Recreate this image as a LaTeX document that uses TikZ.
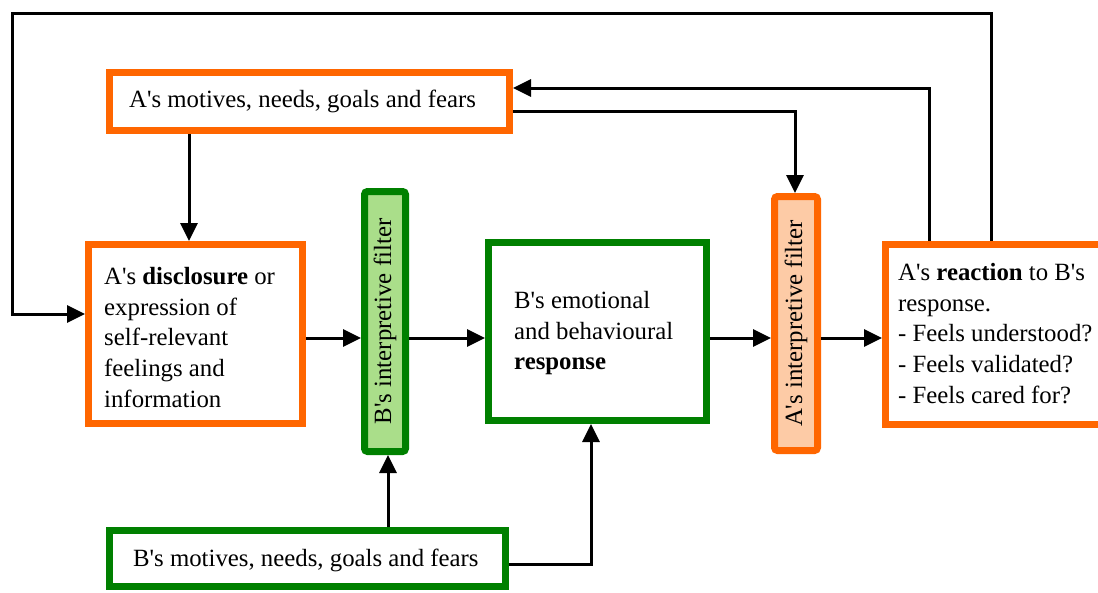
\documentclass[tikz,border=0pt]{standalone}
\usepackage{fontspec}
\setmainfont{Liberation Serif}
\newfontfamily\diagfont{Liberation Serif}
\usepackage{graphicx}
\usetikzlibrary{arrows.meta,calc}
\definecolor{aorange}{HTML}{FF6600}
\definecolor{bgreen}{HTML}{008000}
\definecolor{lgreen}{HTML}{AADE8A}
\definecolor{peach}{HTML}{FDCBA6}
\newcommand{\ap}{\textquotesingle}
\newcommand{\topst}{\rule{0pt}{22pt}}
\tikzset{
  box/.style={draw, line width=7pt, fill=white, inner sep=0pt, rectangle},
  abox/.style={box, draw=aorange},
  bbox/.style={box, draw=bgreen},
  filt/.style={draw, line width=7pt, inner sep=0pt, rounded corners=3pt,
     font={\diagfont\fontsize{24.8}{30.8}\selectfont}},
  txt/.style={inner sep=0pt, anchor=north west, align=left,
     font={\diagfont\fontsize{24.8}{30.8}\selectfont}},
  conn/.style={draw=black, line width=3pt},
  arr/.style={conn, -{Triangle[length=18pt,width=17pt]}}
}
\begin{document}
\begin{tikzpicture}[x=1pt,y=-1pt]
\useasboundingbox[fill=white] (0,0) rectangle (1098,592);
% boxes
\node[abox, minimum width=400pt, minimum height=58pt] (amot) at (309.5,101.5) {};
\node[abox, minimum width=214pt, minimum height=179pt] (disc) at (195.5,334) {};
\node[filt, draw=bgreen, fill=lgreen, minimum width=41pt, minimum height=260pt] (bfil) at (385,321.5) {\rotatebox{90}{B\ap s interpretive filter}};
\node[bbox, minimum width=218pt, minimum height=178pt] (resp) at (597.5,331.5) {};
\node[filt, draw=aorange, fill=peach, minimum width=43pt, minimum height=254pt] (afil) at (796,323.5) {\rotatebox{90}{A\ap s interpretive filter}};
\node[abox, minimum width=221pt, minimum height=180pt] (reac) at (996,334.5) {};
\node[bbox, minimum width=396pt, minimum height=56pt] (bmot) at (307.5,558.5) {};
% texts
\node[txt] (amott) at (129,85) {\topst A\ap s motives, needs, goals and fears};
\node[txt] (disct) at (104,262) {\topst A\ap s \textbf{disclosure} or\\expression of\\self-relevant\\feelings and\\information};
\node[txt] (respt) at (514,286) {\topst B\ap s emotional\\and behavioural\\\textbf{response}};
\node[txt] (react) at (898,258) {\topst A\ap s \textbf{reaction} to B\ap s\\response.\\- Feels understood?\\- Feels validated?\\- Feels cared for?};
\node[txt] (bmott) at (133,544) {\topst B\ap s motives, needs, goals and fears};
% helper coordinates
\coordinate (xa) at (189,0);
\coordinate (xb) at (388,0);
\coordinate (xc) at (591,0);
\coordinate (xd) at (795,0);
\coordinate (xe) at (929,0);
\coordinate (xf) at (991,0);
\coordinate (ymid) at (0,338);
\coordinate (yloop) at (0,314);
\coordinate (ytop) at (12,13);
\coordinate (yret) at (0,88);
\coordinate (yout) at (0,111);
\coordinate (ybm) at (0,564);
% connectors
\draw[arr] (xa |- amot.south) -- (xa |- disc.north);
\draw[arr] (xf |- reac.north) -- (xf |- ytop) -- (ytop) -- (ytop |- yloop) -- (disc.west |- yloop);
\draw[arr] (xe |- reac.north) -- (xe |- yret) -- (amot.east |- yret);
\draw[arr] (amot.east |- yout) -- (xd |- yout) -- (xd |- afil.north);
\draw[arr] (disc.east |- ymid) -- (bfil.west |- ymid);
\draw[arr] (bfil.east |- ymid) -- (resp.west |- ymid);
\draw[arr] (resp.east |- ymid) -- (afil.west |- ymid);
\draw[arr] (afil.east |- ymid) -- (reac.west |- ymid);
\draw[arr] (xb |- bmot.north) -- (xb |- bfil.south);
\draw[arr] (bmot.east |- ybm) -- (xc |- ybm) -- (xc |- resp.south);
\end{tikzpicture}
\end{document}
